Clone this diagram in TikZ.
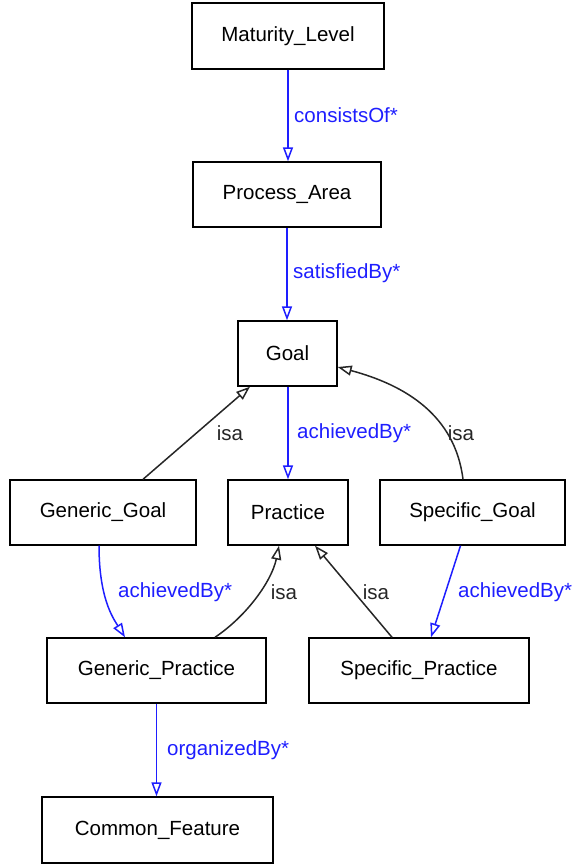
\documentclass[tikz,border=0pt]{standalone}
\usepackage{fontspec}
\setmainfont{Liberation Sans}
\usetikzlibrary{arrows.meta,calc}
\definecolor{relblue}{RGB}{30,30,255}
\begin{document}
\begin{tikzpicture}[x=1pt,y=-1pt,
  font=\fontsize{20.5}{24}\selectfont,
  cls/.style={draw=black,line width=1.4pt,rectangle,inner sep=0pt,minimum height=65pt},
  rel/.style={draw=relblue,line width=1.5pt,-{Triangle[open,length=14pt,width=10pt]}},
  isa/.style={draw=black!85,line width=1.5pt,-{Triangle[open,length=14pt,width=10pt]}},
  rlab/.style={text=relblue,anchor=west,inner sep=0pt},
  ilab/.style={text=black!85,inner sep=0pt}]
\useasboundingbox (0,0) rectangle (577,866);
% classes
\node[cls,minimum width=192pt,minimum height=66pt] (ML) at (288,36) {Maturity\_Level};
\node[cls,minimum width=188pt] (PA) at (287,194.5) {Process\_Area};
\node[cls,minimum width=99pt] (GO) at (287.5,353.5) {Goal};
\node[cls,minimum width=186pt] (GG) at (103,512.5) {Generic\_Goal};
\node[cls,minimum width=120pt] (PR) at (288,512.5) {Practice};
\node[cls,minimum width=185pt] (SG) at (472.5,512.5) {Specific\_Goal};
\node[cls,minimum width=219pt] (GP) at (156.5,670.5) {Generic\_Practice};
\node[cls,minimum width=220pt] (SP) at (419,670.5) {Specific\_Practice};
\node[cls,minimum width=231pt,minimum height=66pt] (CF) at (157.5,830) {Common\_Feature};
% relations
\draw[rel] (ML.south) -- (ML.south |- PA.north);
\node[rlab] (l1) at (294,115) {consistsOf*};
\draw[rel] (PA.south) -- (PA.south |- GO.north);
\node[rlab] (l2) at (293,273) {satisfiedBy*};
\draw[rel] ($(GO.south)+(0.5,0)$) -- (PR.north);
\node[rlab] (l3) at (297,433) {achievedBy*};
\draw[rel] ($(GG.south)+(-4,0)$) .. controls (99,598) and (113,618) .. ($(GP.north)+(-31.5,0)$);
\node[rlab] (l4) at (118,592) {achievedBy*};
\draw[rel] ($(SG.south)+(-12,0)$) -- ($(SP.north)+(12,0)$);
\node[rlab] (l5) at (458,592) {achievedBy*};
\draw[rel] (GP.south) -- (GP.south |- CF.north);
\node[rlab] (l6) at (167,750) {organizedBy*};
% generalisations
\draw[isa] ($(GG.north)+(40,0)$) -- ($(GO.south)+(-37.5,0)$);
\node[ilab] (i1) at (230,433) {isa};
\draw[isa] ($(SG.north)+(-9.5,0)$) .. controls (455,415) and (405,385) .. ($(GO.east)+(0,13.5)$);
\node[ilab] (i2) at (461,433) {isa};
\draw[isa] ($(GP.north)+(58.5,0)$) .. controls (248,615) and (272,580) .. ($(PR.south)+(-9,0)$);
\node[ilab] (i3) at (284,592) {isa};
\draw[isa] ($(SP.north)+(-27,0)$) -- ($(PR.south)+(27,0)$);
\node[ilab] (i4) at (376,592) {isa};
\end{tikzpicture}
\end{document}
